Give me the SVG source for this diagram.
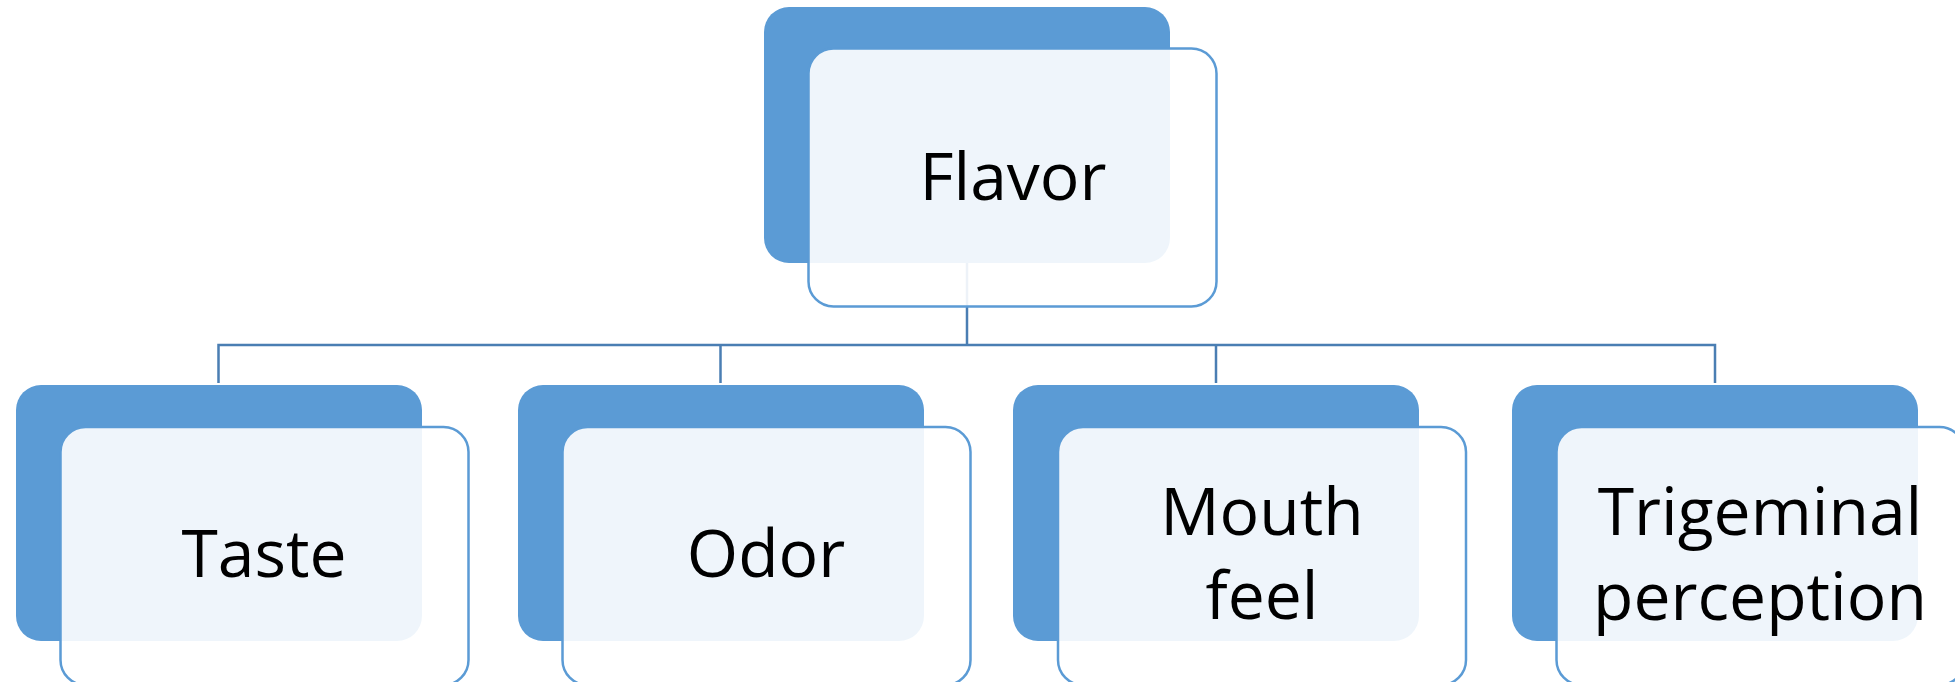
<svg xmlns="http://www.w3.org/2000/svg" width="1955" height="682" viewBox="0 0 1955 682">
  <style>
    .back { fill: #5b9bd5; }
    .front { fill: #ffffff; fill-opacity: 0.9; stroke: #5b9bd5; stroke-width: 2.5; }
    .label { font-family: "Open Sans", "Liberation Sans", sans-serif; font-size: 66px; fill: #000000; text-anchor: middle; }
    .link { fill: none; stroke: #4a7eb3; stroke-width: 2.5; }
  </style>
  <rect width="1955" height="682" fill="#ffffff"/>

  <!-- tree connectors -->
  <g id="connectors">
    <path class="link" d="M967,263 V345"/>
    <path class="link" d="M218.5,383 V345 H1715 V383"/>
    <path class="link" d="M720.5,345 V383"/>
    <path class="link" d="M1216,345 V383"/>
  </g>

  <!-- root -->
  <g id="flavor">
    <rect class="back" x="764" y="7" width="406" height="256" rx="25"/>
    <rect class="front" x="808.5" y="48.5" width="408" height="258" rx="25"/>
    <text class="label" x="1013" y="200">Flavor</text>
  </g>

  <!-- children -->
  <g id="taste">
    <rect class="back" x="16" y="385" width="406" height="256" rx="25"/>
    <rect class="front" x="60.5" y="427" width="408" height="258" rx="25"/>
    <text class="label" x="264" y="577">Taste</text>
  </g>

  <g id="odor">
    <rect class="back" x="518" y="385" width="406" height="256" rx="25"/>
    <rect class="front" x="562.5" y="427" width="408" height="258" rx="25"/>
    <text class="label" x="766" y="577">Odor</text>
  </g>

  <g id="mouthfeel">
    <rect class="back" x="1013" y="385" width="406" height="256" rx="25"/>
    <rect class="front" x="1058" y="427" width="408" height="258" rx="25"/>
    <text class="label" x="1262" y="535">Mouth</text>
    <text class="label" x="1262" y="619">feel</text>
  </g>

  <g id="trigeminal">
    <rect class="back" x="1512" y="385" width="406" height="256" rx="25"/>
    <rect class="front" x="1556.5" y="427" width="408" height="258" rx="25"/>
    <text class="label" x="1760" y="535">Trigeminal</text>
    <text class="label" x="1760" y="620">perception</text>
  </g>
</svg>
